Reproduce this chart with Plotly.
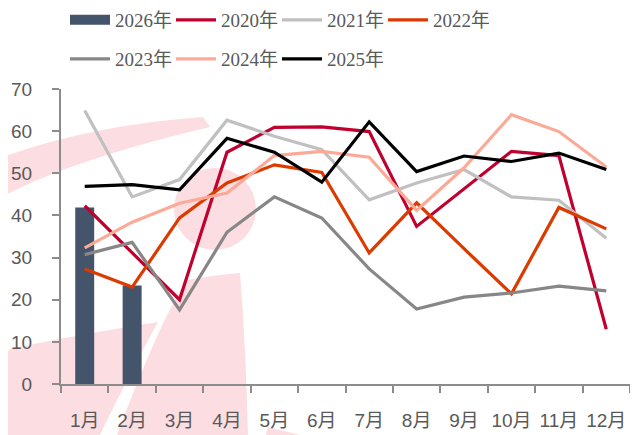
import plotly.graph_objects as go

months = ["1月", "2月", "3月", "4月", "5月", "6月", "7月", "8月", "9月", "10月", "11月", "12月"]
bar_2026 = [41.9, 23.4]
s2020 = [42.3, 31.1, 20.0, 55.0, 60.9, 61.0, 59.9, 37.4, 46.3, 55.2, 54.2, 13.0]
s2021 = [64.9, 44.4, 48.5, 62.6, 58.8, 55.6, 43.7, 47.7, 50.9, 44.4, 43.6, 34.6]
s2022 = [27.3, 23.0, 39.4, 47.7, 52.0, 50.2, 31.1, 43.0, 32.1, 21.4, 41.9, 36.8]
s2023 = [30.7, 33.6, 17.6, 36.0, 44.4, 39.4, 27.3, 17.8, 20.6, 21.6, 23.2, 22.1]
s2024 = [32.3, 38.4, 42.9, 45.3, 54.2, 55.2, 53.8, 41.2, 51.3, 63.9, 59.9, 51.5]
s2025 = [46.9, 47.3, 46.1, 58.3, 55.0, 47.9, 62.2, 50.4, 54.1, 52.8, 54.8, 50.9]
y_ticks = [0, 10, 20, 30, 40, 50, 60, 70]

# the page body has an 8px margin, so the figure is sized to fit the window
PAGE_OFF = 8
W, H = 638 - PAGE_OFF, 435 - PAGE_OFF
ML, MR, MT, MB = 61 - PAGE_OFF, 8, 89 - PAGE_OFF, 51
PW, PH = W - ML - MR, H - MT - MB

def px(x):  # screen px -> paper x
    return (x - PAGE_OFF - ML) / PW

def py(y):  # screen px -> paper y
    return (PAGE_OFF + H - MB - y) / PH

def path(points, close=True):
    out = []
    for cmd, *c in points:
        conv = []
        for i in range(0, len(c), 2):
            conv.append(f"{px(c[i]):.4f},{py(c[i+1]):.4f}")
        out.append(cmd + " " + " ".join(conv))
    s = " ".join(out)
    return s + (" Z" if close else "")

PINK = "#FCDDE1"
shapes = [
    # upper arc band
    dict(type="path", xref="paper", yref="paper", layer="below", line_width=0, fillcolor=PINK,
         path=path([("M", 0, 158), ("Q", 90, 125, 203, 117), ("L", 210, 127), ("Q", 70, 160, 0, 198)])),
    # circle
    dict(type="circle", xref="paper", yref="paper", layer="below", line_width=0, fillcolor=PINK,
         x0=px(174), x1=px(256), y0=py(250), y1=py(168)),
    # lower-left band
    dict(type="path", xref="paper", yref="paper", layer="below", line_width=0, fillcolor=PINK,
         path=path([("M", 0, 360), ("L", 10, 349), ("Q", 80, 334, 158, 322), ("Q", 128, 376, 100, 435), ("L", 0, 435)])),
    # middle band
    dict(type="path", xref="paper", yref="paper", layer="below", line_width=0, fillcolor=PINK,
         path=path([("M", 187, 280), ("Q", 215, 275, 240, 273), ("Q", 246, 350, 248, 435), ("L", 117, 435), ("Q", 160, 320, 187, 280)])),
    # bottom piece
    dict(type="path", xref="paper", yref="paper", layer="below", line_width=0, fillcolor=PINK,
         path=path([("M", 268, 427), ("L", 300, 435), ("L", 266, 435)])),
]

BAR_COLOR = "#44546A"
fig = go.Figure()
fig.add_trace(go.Bar(x=months[:len(bar_2026)], y=bar_2026, name="2026年", marker_color=BAR_COLOR,
                     marker_line_width=0, width=0.4, legend="legend", legendgroup="2026",
                     showlegend=False))
# legend-only entry giving the 2026 bar a wide rectangular swatch
fig.add_trace(go.Scatter(x=[None], y=[None], name="2026年", mode="lines", legendgroup="2026",
                         line=dict(color=BAR_COLOR, width=10), legend="legend", hoverinfo="skip"))
line_series = [
    ("2020年", s2020, "#C0002F", "legend"),
    ("2021年", s2021, "#C0C0C0", "legend"),
    ("2022年", s2022, "#DD3A00", "legend"),
    ("2023年", s2023, "#878787", "legend2"),
    ("2024年", s2024, "#FBAA97", "legend2"),
    ("2025年", s2025, "#000000", "legend2"),
]
for name, vals, color, lg in line_series:
    fig.add_trace(go.Scatter(x=months, y=vals, name=name, mode="lines",
                             line=dict(color=color, width=3.2), legend=lg))

legend_font = dict(family="Liberation Serif, Noto Sans CJK SC, serif", size=19, color="#595959")
common_legend = dict(orientation="h", xanchor="left", yanchor="middle", font=legend_font,
                     entrywidth=51, entrywidthmode="pixels", bgcolor="rgba(0,0,0,0)",
                     itemwidth=40, traceorder="normal")
fig.update_layout(
    width=W, height=H,
    margin=dict(l=ML, r=MR, t=MT, b=MB, autoexpand=False),
    paper_bgcolor="white", plot_bgcolor="rgba(0,0,0,0)",
    shapes=shapes,
    showlegend=True,
    legend=dict(x=px(65), y=py(20), **common_legend),
    legend2=dict(x=px(65), y=py(59), **common_legend),
    font=dict(family="Liberation Sans, Arial, Noto Sans CJK SC, sans-serif", color="#595959"),
)
fig.update_xaxes(type="category", range=[-0.5, 11.5], showline=True, linecolor="#8C8C8C", linewidth=2,
                 ticks="outside", tickson="boundaries", ticklen=7, tickwidth=1.5, tickcolor="#8C8C8C",
                 tickfont=dict(size=19, color="#595959"), showgrid=False, zeroline=False,
                 tickangle=0, ticklabelstandoff=18)
fig.update_yaxes(range=[0, 70], tickvals=y_ticks, showline=True, linecolor="#8C8C8C", linewidth=2,
                 ticks="outside", ticklen=7, tickwidth=1.5, tickcolor="#8C8C8C",
                 tickfont=dict(size=19, color="#595959"), showgrid=False, zeroline=False,
                 ticklabelstandoff=16)

fig.write_html("out.html")
